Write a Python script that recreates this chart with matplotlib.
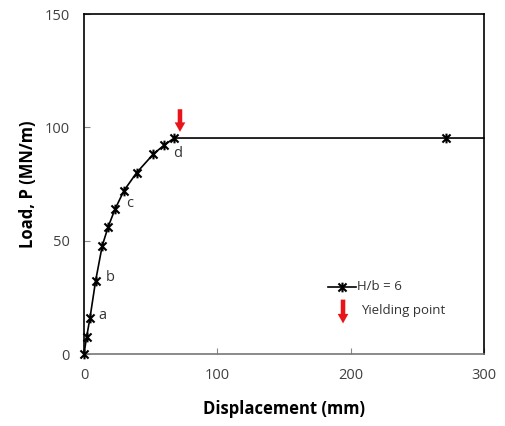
import matplotlib.pyplot as plt
from matplotlib.path import Path

# load-displacement curve
disp = [0, 2, 4.5, 8.7, 13.7, 18.2, 23.2, 30, 39.5, 52, 60.2, 67.7, 271.5, 300]
load = [0, 7.6, 15.9, 32.2, 47.8, 56.2, 63.8, 72.1, 80, 88.2, 92.2, 95.3, 95.3, 95.3]

point_labels = ["a", "b", "c", "d"]
label_x = [14, 19.5, 34, 70]
label_y = [16.8, 33.8, 66.5, 88.5]

yield_x = 72
yield_top = 108
yield_tip = 98

plt.rcParams['font.family'] = ['Open Sans', 'DejaVu Sans']

# excel-like star marker: an x with a vertical stroke
star = Path([(-1, -1), (1, 1), (-1, 1), (1, -1), (0, -1.2), (0, 1.2)],
            [Path.MOVETO, Path.LINETO, Path.MOVETO, Path.LINETO, Path.MOVETO, Path.LINETO])

fig = plt.figure(figsize=(5.05, 4.26), dpi=100)
ax = fig.add_axes([0.1663, 0.169, 0.792, 0.798])

ax.plot(disp, load, color='black', lw=1.2, marker=star, ms=7, mew=1.5,
        markevery=list(range(len(disp) - 1)), clip_on=False, zorder=3)

for t, x, y in zip(point_labels, label_x, label_y):
    ax.text(x, y, t, fontsize=10.5, color='#333333', ha='center', va='center')


def red_arrow(x, top, tip):
    ax.arrow(x, top, 0, tip - top, width=3.4, head_width=8, head_length=4.2,
             length_includes_head=True, color='#e8141a', lw=0, zorder=4)


red_arrow(yield_x, yield_top, yield_tip)

# legend drawn by hand
ax.plot([183, 204], [29.6, 29.6], color='black', lw=1.2)
ax.plot([193.5], [29.6], color='black', marker=star, ms=7, mew=1.5)
ax.text(205, 29.6, 'H/b = 6', fontsize=9.5, color='#333333', va='center')
red_arrow(194.3, 24, 13.5)
ax.text(208, 19, 'Yielding point', fontsize=9.5, color='#333333', va='center')

ax.set_xlim(0, 300)
ax.set_ylim(0, 150)
ax.set_xticks([0, 100, 200, 300])
ax.set_yticks([0, 50, 100, 150])
ax.tick_params(direction='in', length=4, color='#888888', labelsize=10.5,
               labelcolor='#404040', pad=10)
for s in ax.spines.values():
    s.set_linewidth(1.2)
ax.spines['bottom'].set_color('#777777')

ax.set_xlabel('Displacement (mm)', fontsize=12, fontweight='bold', labelpad=12)
ax.set_ylabel('Load, P (MN/m)', fontsize=12, fontweight='bold', labelpad=6)

fig.savefig('out.png', dpi=100)
